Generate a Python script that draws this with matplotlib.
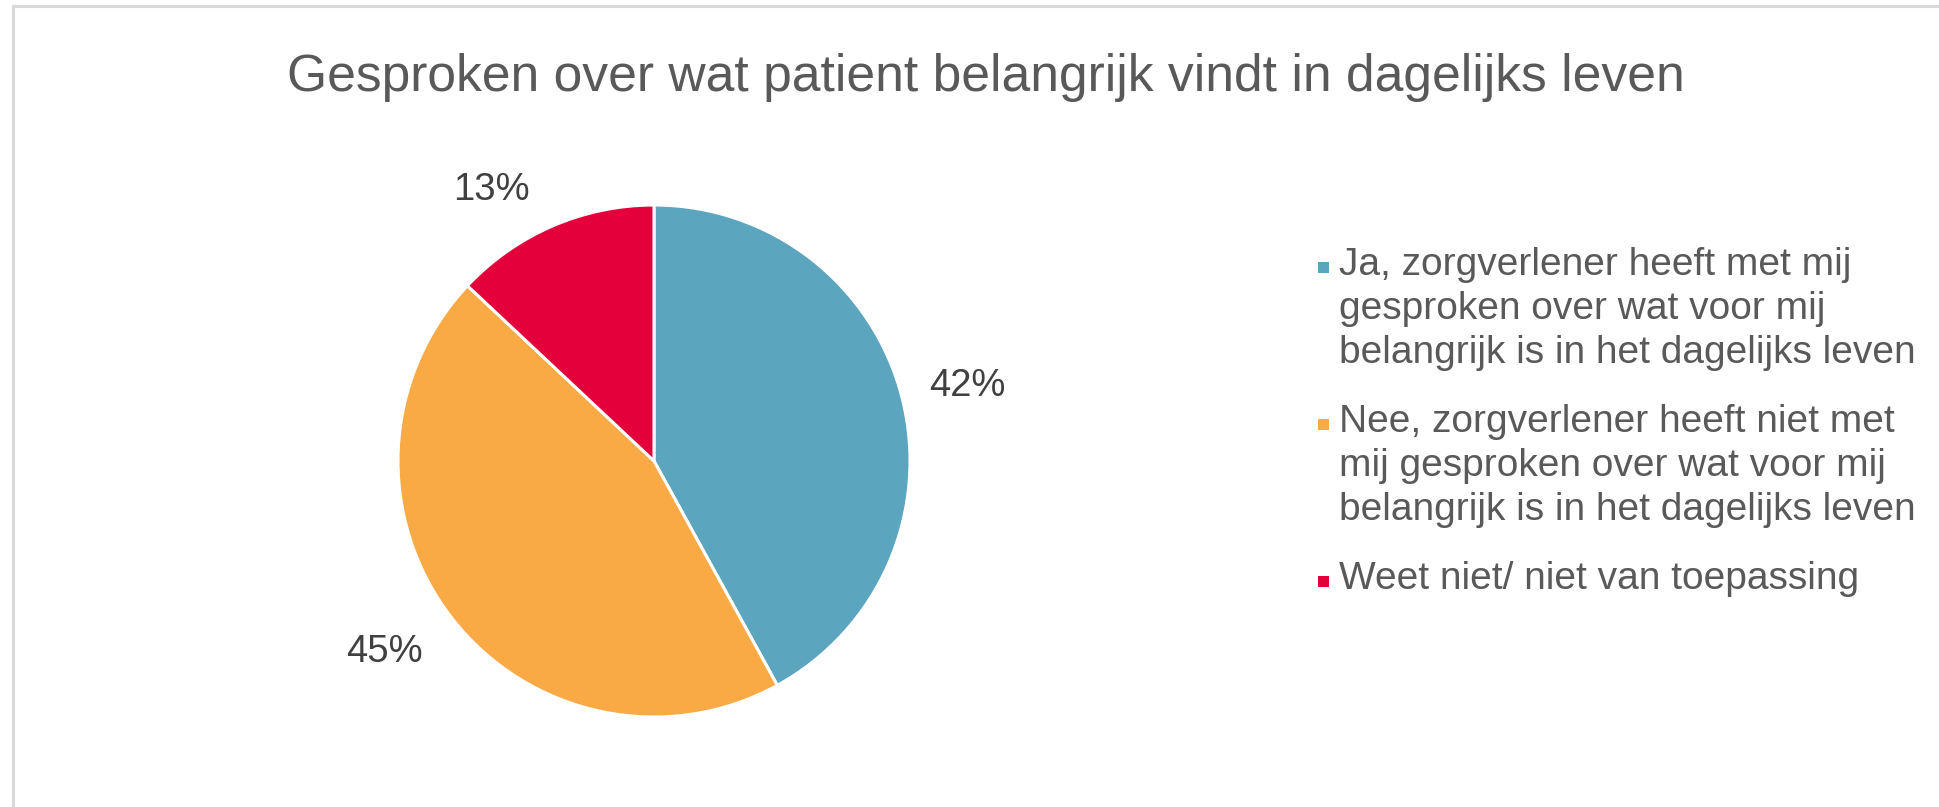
import numpy as np
import matplotlib
matplotlib.use("Agg")
import matplotlib.pyplot as plt
from matplotlib.lines import Line2D
from matplotlib.patches import Rectangle

title = "Gesproken over wat patient belangrijk vindt in dagelijks leven"
categories = [
    "Ja, zorgverlener heeft met mij\ngesproken over wat voor mij\nbelangrijk is in het dagelijks leven",
    "Nee, zorgverlener heeft niet met\nmij gesproken over wat voor mij\nbelangrijk is in het dagelijks leven",
    "Weet niet/ niet van toepassing",
]
values = [42, 45, 13]
colors = ["#5BA5BF", "#F9AA45", "#E4003A"]

W, H = 1939, 807
plt.rcParams["font.family"] = ["Liberation Sans", "DejaVu Sans"]


def fx(px):
    return px / W


def fy(py):
    # pixel rows counted from the top
    return 1 - py / H


fig = plt.figure(figsize=(W / 100, H / 100), dpi=100)
fig.patch.set_facecolor("white")

# chart frame (only top and left edges visible in the screenshot)
fig.add_artist(Line2D([fx(13), fx(13)], [0, fy(6)], color="#D9D9D9", lw=2.2))
fig.add_artist(Line2D([fx(13), 1], [fy(6), fy(6)], color="#D9D9D9", lw=2.2))

fig.text(fx(986), fy(77), title, ha="center", va="center",
         fontsize=37.2, color="#595959")

# pie
cx, cy, r = 654, 461, 256
ax = fig.add_axes([fx(cx - r), fy(cy + r), 2 * r / W, 2 * r / H])
wedges, _ = ax.pie(values, colors=colors, startangle=90, counterclock=False,
                   wedgeprops=dict(edgecolor="white", linewidth=2.2))
ax.set_xlim(-1, 1)
ax.set_ylim(-1, 1)
ax.set_aspect("equal")
ax.axis("off")

# data labels outside the slices
label_dist = [1.26, 1.29, 1.235]
label_shift = [-1.0, -2.4, 7.5]
for w, v, d, s in zip(wedges, values, label_dist, label_shift):
    ang = np.deg2rad((w.theta1 + w.theta2) / 2 + s)
    ax.text(d * np.cos(ang), d * np.sin(ang), f"{v}%", ha="center", va="center",
            fontsize=27.5, color="#404040")

# legend, drawn by hand so the square sits at the first line
item_top = [249, 406, 563]
for lab, c, top in zip(categories, colors, item_top):
    fig.text(fx(1339), fy(top - 2), lab, ha="left", va="top", fontsize=28,
             color="#595959", linespacing=1.29)
    fig.add_artist(Rectangle((fx(1318), fy(top + 24)), 11 / W, 11 / H,
                             facecolor=c, edgecolor="none",
                             transform=fig.transFigure))

fig.savefig("out.png", dpi=100)
